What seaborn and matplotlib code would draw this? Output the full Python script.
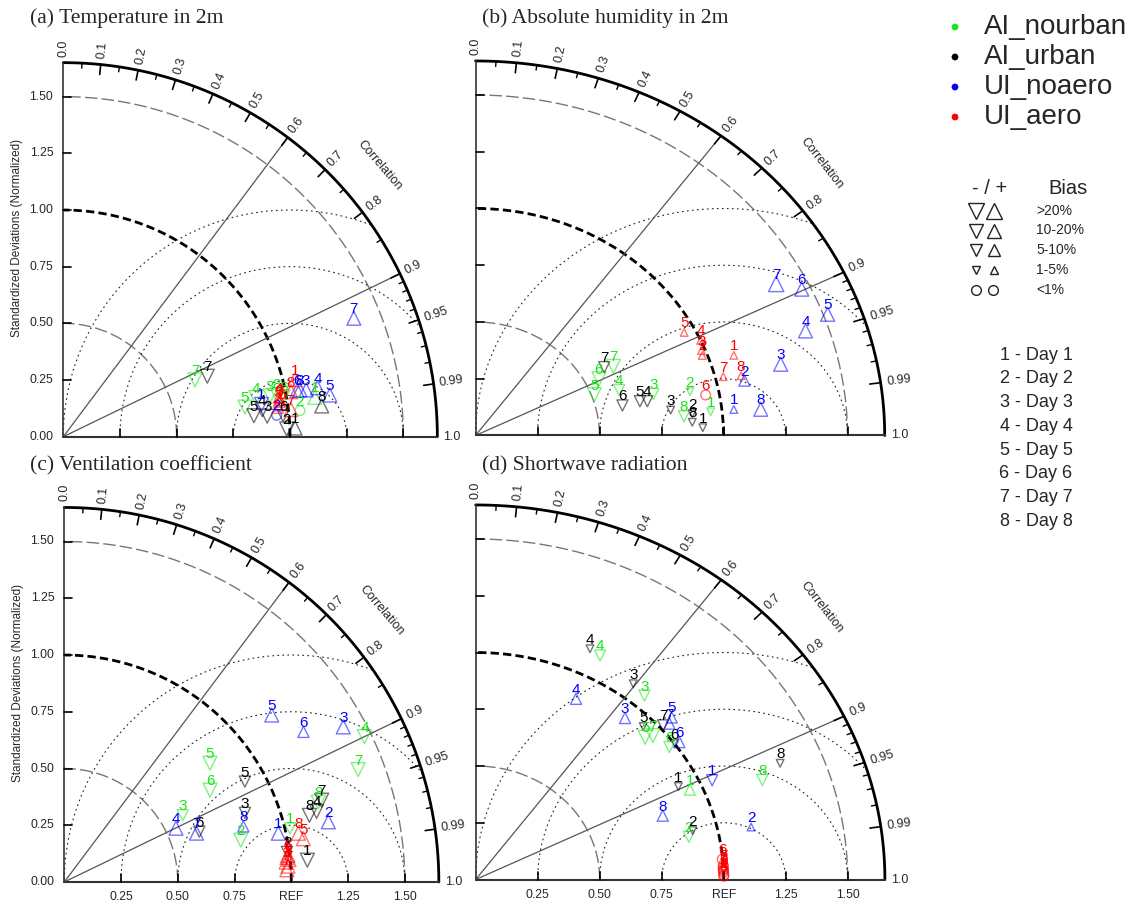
import numpy as np
import matplotlib
matplotlib.use("Agg")
import matplotlib.pyplot as plt
import seaborn as sns

sns.set_style("white")
plt.rcParams["font.family"] = ["Liberation Sans", "DejaVu Sans"]

W, H = 1144, 911

# cases and colours
cases = ["AI_nourban", "AI_urban", "UI_noaero", "UI_aero"]
colors = ["#19e619", "black", "blue", "red"]
day_labels = ["1 - Day 1", "2 - Day 2", "3 - Day 3", "4 - Day 4",
              "5 - Day 5", "6 - Day 6", "7 - Day 7", "8 - Day 8"]
bias_labels = [">20%", "10-20%", "5-10%", "1-5%", "<1%"]
titles = ["(a) Temperature in 2m", "(b) Absolute humidity in 2m",
          "(c) Ventilation coefficient", "(d) Shortwave radiation"]

corr_ticks = [0.0, 0.1, 0.2, 0.3, 0.4, 0.5, 0.6, 0.7, 0.8, 0.9, 0.95, 0.99, 1.0]
corr_minor = [0.05, 0.15, 0.25, 0.35, 0.45, 0.55, 0.65, 0.75, 0.85,
              0.91, 0.92, 0.93, 0.94, 0.96, 0.97, 0.98]
std_ticks = [0.25, 0.5, 0.75, 1.0, 1.25, 1.5]

# bias class: sign = +/-, 1: 1-5%, 2: 5-10%, 3: 10-20%, 4: >20%, 0: <1%
# rows = cases (AI_nourban, AI_urban, UI_noaero, UI_aero), columns = day 1..8

# (a) temperature in 2m
t2_ratio = [[1.123, 1.050, 0.930, 0.867, 0.812, 0.985, 0.633, 0.961],
            [1.023, 0.986, 0.904, 0.886, 0.846, 0.974, 0.689, 1.148],
            [0.886, 0.946, 1.091, 1.142, 1.190, 1.051, 1.384, 1.064],
            [1.052, 0.955, 0.970, 0.966, 0.963, 0.971, 1.011, 1.024]]
t2_corr = [[0.988, 0.994, 0.981, 0.980, 0.987, 0.984, 0.918, 0.981],
           [0.9993, 0.9994, 0.995, 0.991, 0.994, 0.9956, 0.922, 0.993],
           [0.987, 0.995, 0.982, 0.982, 0.988, 0.981, 0.926, 0.981],
           [0.971, 0.991, 0.986, 0.984, 0.987, 0.989, 0.993, 0.981]]
t2_bias = [[3, 0, -3, -3, -3, -3, -3, -3],
           [3, -3, -3, -3, -3, -2, -3, 3],
           [-3, 0, 3, 3, 3, 3, 3, 3],
           [3, 2, 2, 2, 2, 2, 3, 3]]

# (b) absolute humidity in 2m
q2_ratio = [[0.954, 0.886, 0.740, 0.613, 0.512, 0.557, 0.634, 0.845],
            [0.917, 0.879, 0.795, 0.709, 0.680, 0.607, 0.600, 0.876],
            [1.048, 1.111, 1.270, 1.408, 1.517, 1.465, 1.384, 1.156],
            [1.100, 0.980, 0.985, 1.000, 0.956, 0.945, 1.032, 1.103]]
q2_corr = [[0.994, 0.976, 0.969, 0.945, 0.936, 0.894, 0.877, 0.995],
           [0.9993, 0.994, 0.990, 0.977, 0.975, 0.976, 0.865, 0.9978],
           [0.994, 0.976, 0.969, 0.945, 0.936, 0.898, 0.876, 0.995],
           [0.947, 0.933, 0.925, 0.908, 0.880, 0.982, 0.968, 0.971]]
q2_bias = [[-1, -1, -2, -2, -3, -3, -3, -2],
           [-1, -1, -1, -2, -2, -2, -2, -1],
           [1, 2, 3, 3, 3, 3, 4, 3],
           [1, 1, 1, 1, 1, 0, 1, 1]]

# (c) ventilation coefficient
vc_ratio = [[1.022, 0.799, 0.599, 1.469, 0.828, 0.759, 1.386, 1.173],
            [1.075, 0.990, 0.852, 1.154, 0.910, 0.635, 1.190, 1.119],
            [0.967, 1.193, 1.406, 0.546, 1.173, 1.244, 0.621, 0.826],
            [0.987, 0.981, 0.988, 0.995, 1.070, 0.992, 0.982, 1.053]]
vc_corr = [[0.973, 0.973, 0.871, 0.900, 0.775, 0.846, 0.934, 0.954],
           [0.996, 0.991, 0.934, 0.963, 0.874, 0.937, 0.953, 0.965],
           [0.975, 0.975, 0.874, 0.901, 0.779, 0.847, 0.938, 0.955],
           [0.994, 0.996, 0.9975, 0.995, 0.984, 0.993, 0.9985, 0.979]]
vc_bias = [[-2, -3, -2, -3, -3, -3, -3, -3],
           [-3, -2, -2, -3, -2, -2, -3, -3],
           [3, 3, 3, 3, 3, 2, 3, 2],
           [3, 3, 3, 3, 3, 3, 3, 3]]

# (d) shortwave radiation
sw_ratio = [[0.950, 0.880, 1.058, 1.107, 0.927, 0.975, 0.955, 1.236],
            [0.914, 0.901, 1.071, 1.116, 0.954, 1.002, 1.016, 1.330],
            [1.049, 1.134, 0.932, 0.893, 1.065, 1.020, 1.040, 0.805],
            [1.000, 0.999, 1.000, 1.001, 1.000, 0.998, 1.000, 1.000]]
sw_corr = [[0.909, 0.977, 0.643, 0.453, 0.737, 0.801, 0.748, 0.935],
           [0.894, 0.971, 0.593, 0.413, 0.708, 0.802, 0.744, 0.923],
           [0.909, 0.979, 0.646, 0.453, 0.742, 0.805, 0.751, 0.937],
           [0.9995, 0.9990, 0.9985, 0.9998, 0.9992, 0.9960, 0.9980, 0.9999]]
sw_bias = [[2, -2, -2, -2, -3, -2, -3, -2],
           [-1, -1, -1, -1, -1, -1, -2, -1],
           [-2, 1, 2, 2, 2, 2, 2, 2],
           [0, 0, 0, 0, 0, 0, 0, 0]]

marker_size = {0: 7, 1: 5.5, 2: 8, 3: 10, 4: 11}
RMAX = 1.65

fig = plt.figure(figsize=(W / 100, H / 100), dpi=100)


def panel_axes(ox, oy, sx, sy):
    x0, x1, y0, y1 = -0.32, 1.9, -0.22, 1.95
    left, right = ox + x0 * sx, ox + x1 * sx
    top, bottom = oy - y1 * sy, oy - y0 * sy
    ax = fig.add_axes([left / W, 1 - bottom / H, (right - left) / W, (bottom - top) / H])
    ax.set_xlim(x0, x1)
    ax.set_ylim(y0, y1)
    ax.axis("off")
    ax.patch.set_alpha(0)
    return ax


def draw_frame(ax, sx, sy, ylab, xlab):
    t = np.linspace(0, np.pi / 2, 400)
    # std arcs
    ax.plot(0.5 * np.cos(t), 0.5 * np.sin(t), color="#777777", lw=1, ls=(0, (9, 3)))
    ax.plot(1.5 * np.cos(t), 1.5 * np.sin(t), color="#777777", lw=1, ls=(0, (9, 3)))
    ax.plot(np.cos(t), np.sin(t), color="black", lw=2, ls=(0, (3, 1.5)))
    # centred rms arcs
    tt = np.linspace(0, np.pi, 600)
    for d in [0.25, 0.5, 0.75, 1.0]:
        x = 1 + d * np.cos(tt)
        y = d * np.sin(tt)
        x[np.hypot(x, y) > RMAX] = np.nan
        ax.plot(x, y, color="#222222", lw=0.8, ls=(0, (1.5, 3)))
    # correlation lines
    for c in [0.6, 0.9]:
        ax.plot([0, RMAX * c], [0, RMAX * np.sqrt(1 - c ** 2)], color="#555555", lw=0.9)
    # outer arc and axes
    ax.plot(RMAX * np.cos(t), RMAX * np.sin(t), color="black", lw=2)
    ax.plot([0, RMAX], [0, 0], color="#333333", lw=1.5)
    ax.plot([0, 0], [0, RMAX], color="#333333", lw=1.2)
    # std ticks
    for v in std_ticks:
        ax.plot([0, 8 / sx], [v, v], color="black", lw=1.2)
        ax.plot([v, v], [0, 8 / sy], color="black", lw=1.2)
    # correlation ticks
    for c in corr_ticks[1:-1]:
        a = np.arccos(c)
        ax.plot([RMAX * np.cos(a), (RMAX - 10 / sy) * np.cos(a)],
                [RMAX * np.sin(a), (RMAX - 10 / sy) * np.sin(a)], color="black", lw=1.2)
    for c in corr_minor:
        a = np.arccos(c)
        ax.plot([RMAX * np.cos(a), (RMAX - 5 / sy) * np.cos(a)],
                [RMAX * np.sin(a), (RMAX - 5 / sy) * np.sin(a)], color="black", lw=1)
    for c in corr_ticks:
        a = np.arccos(c)
        rot = np.degrees(np.arctan2(sy * np.sin(a), sx * np.cos(a)))
        r = RMAX + 6 / sy
        lab = "%.2f" % c if c in (0.95, 0.99) else "%.1f" % c
        ax.text(r * np.cos(a), r * np.sin(a), lab, rotation=rot, rotation_mode="anchor",
                ha="left", va="center", fontsize=9)
    a = np.radians(40.6)
    rot = np.degrees(np.arctan2(sy * np.sin(a), sx * np.cos(a))) - 90
    ax.text(1.84 * np.cos(a), 1.84 * np.sin(a), "Correlation", rotation=rot,
            rotation_mode="anchor", ha="center", va="center", fontsize=9)
    if ylab:
        for v in [0.0] + std_ticks:
            ax.text(-10 / sx, v, "%.2f" % v, ha="right", va="center", fontsize=8.8)
        ax.text(-46 / sx, 0.875, "Standardized Deviations (Normalized)", rotation=90,
                ha="center", va="center", fontsize=8.5)
    if xlab:
        for v in std_ticks:
            lab = "REF" if v == 1.0 else "%.2f" % v
            ax.text(v, -15 / sy, lab, ha="center", va="center", fontsize=8.8)


def draw_points(ax, ratio, corr, bias):
    for k, col in enumerate(colors):
        r = np.array(ratio[k])
        c = np.array(corr[k])
        x = r * c
        y = r * np.sqrt(1 - c ** 2)
        for i in range(len(r)):
            b = bias[k][i]
            mk = "o" if b == 0 else ("^" if b > 0 else "v")
            ms = marker_size[abs(b)]
            sns.scatterplot(x=[x[i]], y=[y[i]], marker=mk, s=ms ** 2, facecolor="none",
                            edgecolor=col, linewidth=1.0, alpha=0.55, ax=ax,
                            legend=False, zorder=3)
        for i in range(len(r)):
            ax.annotate(str(i + 1), (x[i], y[i]), xytext=(0, 6.5), textcoords="offset points",
                        ha="center", va="center", color=col, fontsize=11, zorder=4)


panels = [
    (63.3, 436.7, 226.7, 226.7, t2_ratio, t2_corr, t2_bias, True, False),
    (475.5, 435.5, 248, 227, q2_ratio, q2_corr, q2_bias, False, False),
    (64.3, 882, 227, 227, vc_ratio, vc_corr, vc_bias, True, True),
    (475.7, 879.5, 248, 227, sw_ratio, sw_corr, sw_bias, False, True),
]
for ox, oy, sx, sy, ratio, corr, bias, ylab, xlab in panels:
    ax = panel_axes(ox, oy, sx, sy)
    draw_frame(ax, sx, sy, ylab, xlab)
    draw_points(ax, ratio, corr, bias)
    ax.set_xlim(-0.32, 1.9)
    ax.set_ylim(-0.22, 1.95)

# overlay in pixel units for titles and legends
lax = fig.add_axes([0, 0, 1, 1])
lax.set_xlim(0, W)
lax.set_ylim(H, 0)
lax.axis("off")
lax.patch.set_alpha(0)

title_pos = [(30, 18), (482, 18), (30, 466), (482, 466)]
for (tx, ty), tt in zip(title_pos, titles):
    lax.text(tx, ty, tt, ha="left", va="center", fontsize=15.6, family="Liberation Serif")

leg_y = [27, 57, 87, 117]
sns.scatterplot(x=[955] * 4, y=leg_y, hue=cases, palette=colors, s=24, linewidth=0,
                ax=lax, legend=False)
for yy, name in zip(leg_y, cases):
    lax.text(984, yy, name, ha="left", va="center", fontsize=20)

lax.text(990, 188, "- / +", ha="center", va="center", fontsize=14.5)
lax.text(1068, 188, "Bias", ha="center", va="center", fontsize=14.5)
bias_y = [211, 230.5, 250, 270, 290]
for lvl, yy, lab in zip([4, 3, 2, 1, 0], bias_y, bias_labels):
    ms = marker_size[lvl]
    if lvl == 0:
        lax.plot([976, 993], [yy, yy], ls="none", marker="o", ms=ms, mfc="none",
                 mec="#222222", mew=1)
    else:
        lax.plot(976, yy, marker="v", ms=ms, mfc="none", mec="#222222", mew=1)
        lax.plot(994, yy, marker="^", ms=ms, mfc="none", mec="#222222", mew=1)
    lax.text(1036, yy, lab, ha="left", va="center", fontsize=10)

for i, lab in enumerate(day_labels):
    lax.text(1036, 355 + 23.8 * i, lab, ha="center", va="center", fontsize=13)

fig.savefig("out.png", dpi=100)
